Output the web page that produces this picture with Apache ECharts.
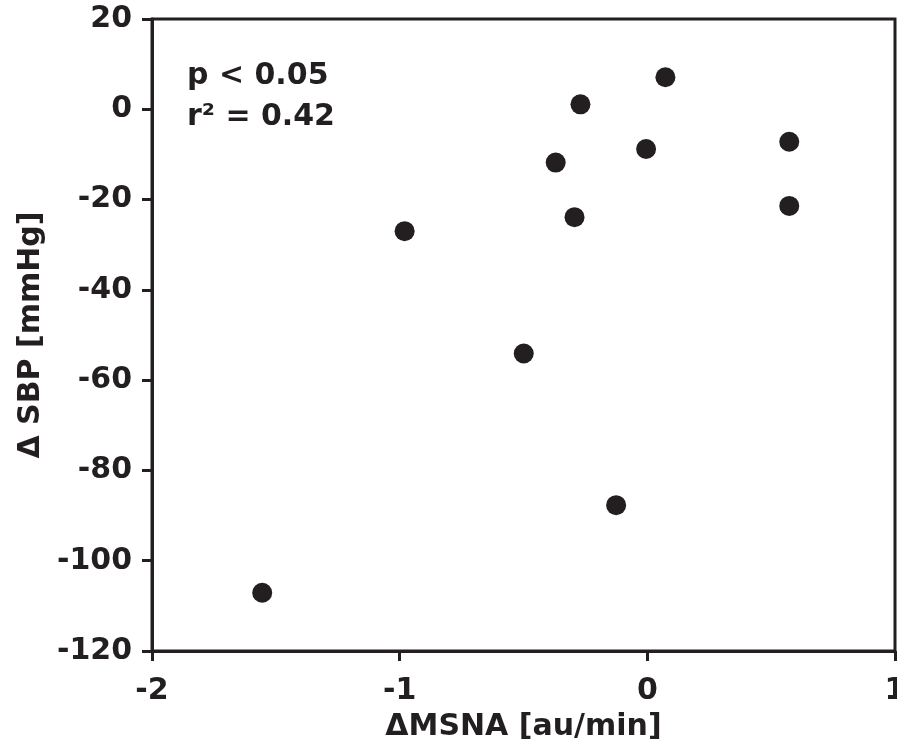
<!DOCTYPE html>
<html>
<head>
<meta charset="utf-8">
<script src="https://cdn.jsdelivr.net/npm/echarts@6/dist/echarts.min.js"></script>
<style>html,body{margin:0;padding:0;background:#fff}#c{width:897px;height:754px}</style>
</head>
<body>
<div id="c"></div>
<script>
const msna = [-1.555, -0.980, -0.499, -0.370, -0.294, -0.270, -0.126, -0.005, 0.073, 0.573, 0.573];
const sbp  = [-107.1, -27.0, -54.1, -11.8, -23.9, 1.1, -87.7, -8.8, 7.1, -7.2, -21.4];
const xTicks = [-2, -1, 0, 1];
const yTicks = [20, 0, -20, -40, -60, -80, -100, -120];
const statLines = ['p < 0.05', 'r\u00B2 = 0.42'];
const xName = '\u0394MSNA [au/min]';
const yName = '\u0394 SBP [mmHg]';

const ink = '#231f20';
const font = 'DejaVu Sans';
const chart = echarts.init(document.getElementById('c'));
chart.setOption({
  animation: false,
  backgroundColor: '#fff',
  grid: { left: 152, right: 2, top: 19, bottom: 103, containLabel: false, outerBoundsMode: 'none',
          show: true, borderColor: ink, borderWidth: 3 },
  xAxis: {
    type: 'value', min: xTicks[0], max: xTicks[xTicks.length - 1], interval: 1,
    name: xName, nameLocation: 'middle', nameGap: 61,
    nameTextStyle: { fontFamily: font, fontWeight: 'bold', fontSize: 30, color: ink },
    axisLine: { show: true, onZero: false, lineStyle: { color: ink, width: 3 } },
    axisTick: { show: true, inside: false, length: 10, lineStyle: { color: ink, width: 3 } },
    axisLabel: { margin: 25, fontFamily: font, fontWeight: 'bold', fontSize: 30, color: ink },
    splitLine: { show: false }
  },
  yAxis: {
    type: 'value', min: yTicks[yTicks.length - 1], max: yTicks[0], interval: 20,
    name: yName, nameLocation: 'middle', nameGap: 102, nameRotate: 90,
    nameTextStyle: { fontFamily: font, fontWeight: 'bold', fontSize: 30, color: ink },
    axisLine: { show: true, onZero: false, lineStyle: { color: ink, width: 3 } },
    axisTick: { show: true, inside: false, length: 10, lineStyle: { color: ink, width: 3 } },
    axisLabel: { margin: 20, fontFamily: font, fontWeight: 'bold', fontSize: 30, color: ink },
    splitLine: { show: false }
  },
  graphic: statLines.map((t, i) => ({
    type: 'text', left: 187, top: 61 + i * 41,
    style: { text: t, fontFamily: font, fontWeight: 'bold', fontSize: 30, fill: ink }
  })),
  series: [{
    type: 'scatter',
    data: msna.map((x, i) => [x, sbp[i]]),
    symbol: 'circle', symbolSize: 20,
    itemStyle: { color: ink, opacity: 1 }
  }]
});
</script>
</body>
</html>
